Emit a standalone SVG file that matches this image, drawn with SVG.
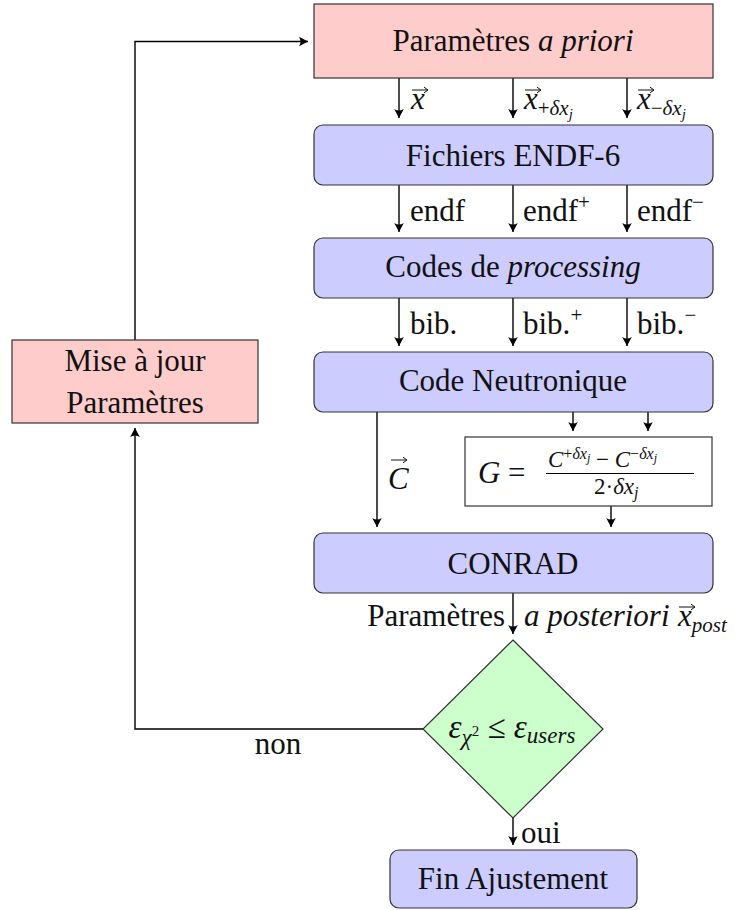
<svg xmlns="http://www.w3.org/2000/svg" width="739" height="910" viewBox="0 0 739 910">
  <defs>
    <marker id="arr" viewBox="-10 -6 12 12" markerWidth="12" markerHeight="12" refX="0" refY="0" orient="auto" markerUnits="userSpaceOnUse">
      <path d="M0,0 L-9,-4.8 Q-6,0 -9,4.8 Z" fill="#000"/>
    </marker>
    <marker id="vec" viewBox="-6 -4 7 8" markerWidth="7" markerHeight="8" refX="0" refY="0" orient="auto" markerUnits="userSpaceOnUse">
      <path d="M0,0 L-4,-2.8 M0,0 L-4,2.8" fill="none" stroke="#111" stroke-width="1"/>
    </marker>
    <style>
      text { font-family: "Liberation Serif", "Times New Roman", serif; font-size: 31px; fill: #111; }
      .c { text-anchor: middle; }
      .e { text-anchor: end; }
      .it { font-style: italic; }
      .sub { font-size: 21px; }
      .sub2 { font-size: 15px; }
      .red { fill: #ffcccc; stroke: #333; stroke-width: 1.2; }
      .blue { fill: #ccccff; stroke: #333; stroke-width: 1.2; }
      .green { fill: #ccffcc; stroke: #333; stroke-width: 1.2; }
      .plain { fill: #fff; stroke: #333; stroke-width: 1.2; }
      .link { fill: none; stroke: #000; stroke-width: 1.4; }
      .arrow { marker-end: url(#arr); }
      .acc { fill: none; stroke: #111; stroke-width: 1; marker-end: url(#vec); }
    </style>
  </defs>
  <rect width="739" height="910" fill="#fff"/>

  <!-- connectors -->
  <g id="connectors">
    <path class="link arrow" d="M399,78 V118"/>
    <path class="link arrow" d="M513,78 V118"/>
    <path class="link arrow" d="M627,78 V118"/>
    <path class="link arrow" d="M399,185 V232"/>
    <path class="link arrow" d="M513,185 V232"/>
    <path class="link arrow" d="M627,185 V232"/>
    <path class="link arrow" d="M399,298 V346"/>
    <path class="link arrow" d="M513,298 V346"/>
    <path class="link arrow" d="M627,298 V346"/>
    <path class="link arrow" d="M377,412 V527"/>
    <path class="link arrow" d="M573,412 V431"/>
    <path class="link arrow" d="M648,412 V431"/>
    <path class="link arrow" d="M611,506 V527"/>
    <path class="link arrow" d="M513,593 V634"/>
    <path class="link arrow" d="M513,818 V845"/>
    <path class="link arrow" d="M423,729 H135 V428"/>
    <path class="link arrow" d="M135,340 V41.5 H308"/>
    <!-- connector labels; vector accents drawn as small arrows -->
    <text x="411" y="109" class="it">x</text>
    <path class="acc" d="M412,90 H428"/>
    <text x="524" y="109"><tspan class="it">x</tspan><tspan class="sub" dy="6">+<tspan class="it">δx</tspan></tspan><tspan class="sub2 it" dy="4">j</tspan></text>
    <path class="acc" d="M525,90 H541"/>
    <text x="637" y="109"><tspan class="it">x</tspan><tspan class="sub" dy="6">−<tspan class="it">δx</tspan></tspan><tspan class="sub2 it" dy="4">j</tspan></text>
    <path class="acc" d="M638,90 H654"/>
    <text x="410" y="221">endf</text>
    <text x="523" y="221">endf<tspan class="sub" dy="-12">+</tspan></text>
    <text x="637" y="221">endf<tspan class="sub" dy="-12">−</tspan></text>
    <text x="410" y="334">bib.</text>
    <text x="523" y="334">bib.<tspan class="sub" dy="-12">+</tspan></text>
    <text x="637" y="334">bib.<tspan class="sub" dy="-12">−</tspan></text>
    <text x="388" y="489" class="it">C</text>
    <path class="acc" d="M391,460 H407"/>
    <text x="505" y="626" class="e">Paramètres</text>
    <text x="524" y="626" class="it">a posteriori</text>
    <text x="678" y="626"><tspan class="it">x</tspan><tspan class="sub it" dy="6">post</tspan></text>
    <path class="acc" d="M679,607 H695"/>
    <text x="278" y="754" class="c">non</text>
    <text x="521" y="843">oui</text>
  </g>

  <g id="apriori">
    <rect class="red" x="314" y="4" width="399" height="74"/>
    <text x="513" y="51" class="c">Paramètres <tspan class="it">a priori</tspan></text>
  </g>

  <g id="endf">
    <rect class="blue" x="314" y="125" width="399" height="60" rx="9"/>
    <text x="513" y="166" class="c">Fichiers ENDF-6</text>
  </g>

  <g id="processing">
    <rect class="blue" x="314" y="238" width="399" height="60" rx="9"/>
    <text x="513" y="277" class="c">Codes de <tspan class="it">processing</tspan></text>
  </g>

  <g id="neutronique">
    <rect class="blue" x="314" y="352" width="399" height="60" rx="9"/>
    <text x="513" y="391" class="c">Code Neutronique</text>
  </g>

  <g id="gradient">
    <rect class="plain" x="465" y="437" width="247" height="69"/>
    <text x="478" y="483" class="it">G</text>
    <text x="508" y="483">=</text>
    <text x="548" y="467" style="font-size:23px"><tspan class="it">C</tspan><tspan style="font-size:16px" dy="-8">+<tspan class="it">δx</tspan></tspan><tspan style="font-size:12px" class="it" dy="3">j</tspan><tspan dy="5"> − </tspan><tspan class="it">C</tspan><tspan style="font-size:16px" dy="-8">−<tspan class="it">δx</tspan></tspan><tspan style="font-size:12px" class="it" dy="3">j</tspan></text>
    <line x1="546" y1="473.5" x2="694" y2="473.5" stroke="#000" stroke-width="1"/>
    <text x="594" y="494" style="font-size:23px">2·<tspan class="it">δx</tspan><tspan style="font-size:16px" class="it" dy="4">j</tspan></text>
  </g>

  <g id="conrad">
    <rect class="blue" x="314" y="533" width="399" height="60" rx="9"/>
    <text x="513" y="574" class="c">CONRAD</text>
  </g>

  <g id="test">
    <polygon class="green" points="513,640 603,729 513,818 423,729"/>
    <text x="512" y="738" class="c" style="font-size:33px"><tspan class="it">ε</tspan><tspan class="sub it" dy="7" style="font-size:23px">χ</tspan><tspan style="font-size:15px" dy="-9">2</tspan><tspan dy="2"> ≤ </tspan><tspan class="it">ε</tspan><tspan class="it" dy="5" style="font-size:23px">users</tspan></text>
  </g>

  <g id="fin">
    <rect class="blue" x="390" y="850" width="247" height="58" rx="9"/>
    <text x="513" y="889" class="c">Fin Ajustement</text>
  </g>

  <g id="miseajour">
    <rect class="red" x="12" y="340" width="246" height="83"/>
    <text x="135" y="371" class="c">Mise à jour</text>
    <text x="135" y="413" class="c">Paramètres</text>
  </g>
</svg>
